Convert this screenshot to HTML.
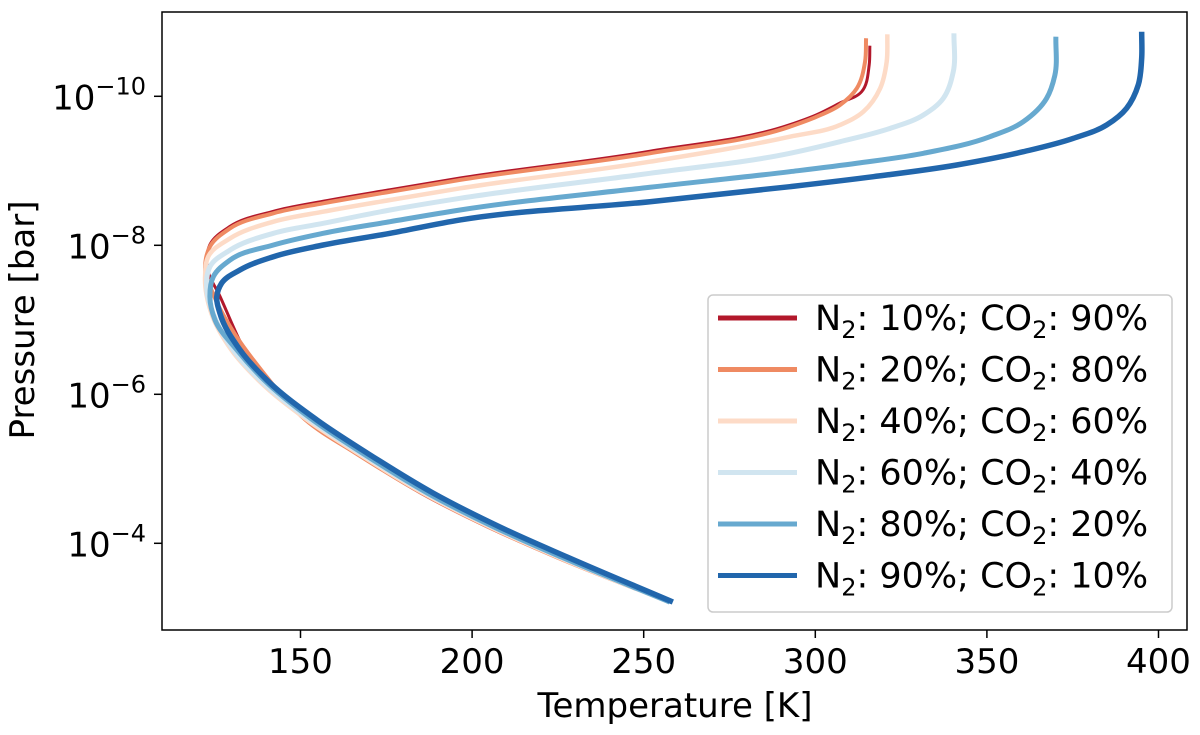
<!DOCTYPE html>
<html><head><meta charset="utf-8"><style>
body{margin:0;background:#fff}
svg text{font-family:"DejaVu Sans","Liberation Sans",sans-serif;fill:#000}
</style></head><body>
<svg id="chart" width="1200" height="730" xmlns="http://www.w3.org/2000/svg">
<g id="curves"></g>
<rect x="162" y="12" width="1025" height="618" fill="none" stroke="#000" stroke-width="1.5"/>
<g id="xticks"></g>
<g id="yticks"></g>
<text x="675" y="717" font-size="34" text-anchor="middle">Temperature [K]</text>
<text transform="translate(34,320) rotate(-90)" font-size="34" text-anchor="middle">Pressure [bar]</text>
<g id="legend">
<rect x="708" y="295" width="464" height="317" rx="5" fill="#fff" fill-opacity="0.9" stroke="#ccc" stroke-width="1.5"/>
</g>
</svg>
<script>
const labelsN2=["10%","20%","40%","60%","80%","90%"];
const labelsCO2=["90%","80%","60%","40%","20%","10%"];
const pRed=[-10.679,-10.420,-10.062,-9.910,-9.753,-9.619,-9.262,-8.903,-8.746,-8.591,-8.456,-8.255,-8.008,-7.713,-7.310,-6.326,-5.655,-5.212,-4.675,-4.219,-3.816,-3.212];
const tRed=[315.9,315.7,313.5,307.2,300.4,292.6,251.8,196.5,176.1,156.6,142.1,129.5,123.6,122.8,126.6,137.3,151.5,166,185,204.5,224.3,257.5];
const pOrange=[-10.779,-10.464,-10.107,-9.883,-9.726,-9.592,-9.235,-8.877,-8.719,-8.564,-8.430,-8.228,-7.981,-7.713,-7.3,-6.8,-6.3,-5.655,-5.212,-4.675,-4.219,-3.816,-3.212];
const tOrange=[314.8,314.5,312.1,307.2,300.4,292.6,251.8,196.5,176.1,156.6,142.1,129.5,123.6,122.2,125,131,139,151.5,166,185.3,204.8,224.5,257.5];
const pPeach=[-10.832,-10.464,-10.107,-9.793,-9.615,-9.458,-9.122,-8.765,-8.608,-8.451,-8.317,-8.094,-7.847,-7.579,-7.091,-6.594,-6.192,-5.655,-5.212,-4.675,-4.219,-3.816,-3.212];
const tPeach=[321.0,320.8,318.9,314.0,307.2,292.6,251.8,196.5,176.1,156.6,142.1,129.5,123.1,122.2,124,129.9,137.7,152,166.6,185.8,205.3,225,257.5];
const pLight=[-10.846,-10.330,-9.973,-9.749,-9.570,-9.391,-9.235,-8.966,-8.631,-8.474,-8.295,-8.161,-7.937,-7.713,-7.400,-7.091,-6.594,-6.192,-5.655,-5.212,-4.675,-4.219,-3.816,-3.212];
const tLight=[340.4,340.2,337.3,331.5,321.8,307.2,292.6,251.8,196.5,176.1,156.6,142.1,129.5,123.6,122.7,124.5,130.4,138.2,152.8,167.4,186.6,206.1,225.7,257.5];
const pMed=[-10.800,-10.282,-9.973,-9.659,-9.458,-9.235,-9.101,-8.988,-8.779,-8.474,-8.317,-8.161,-8.004,-7.803,-7.579,-7.310,-6.997,-6.594,-6.192,-5.655,-5.212,-4.675,-4.219,-3.816,-3.212];
const tMed=[370.1,369.8,367.4,360.6,350.9,331.5,312.1,292.6,251.8,196.5,176.1,156.6,142.1,129.5,124.6,123.6,125.1,131.5,139.4,153.6,168,187,206.4,226,257.6];
const pDark=[-10.867,-10.510,-10.152,-9.839,-9.615,-9.436,-9.256,-9.078,-8.921,-8.787,-8.585,-8.340,-8.161,-8.004,-7.847,-7.670,-7.490,-7.310,-7.091,-6.594,-6.192,-5.655,-5.212,-4.675,-4.219,-3.816,-3.212];
const tDark=[395.1,395.1,394.1,390.7,384.9,375.2,360.6,341.2,316.9,292.6,251.8,196.5,176.1,156.6,142.1,132.4,127.0,125.6,126.5,132.4,140.2,154.8,169.4,188.6,208.1,227.7,258.5];
const xTicks=[150,200,250,300,350,400];
const yTicks=[-10,-8,-6,-4];
const seriesP=[pRed,pOrange,pPeach,pLight,pMed,pDark];
const seriesT=[tRed,tOrange,tPeach,tLight,tMed,tDark];
const colors=["#b2182b","#ef8a62","#fddbc7","#d1e5f0","#67a9cf","#2166ac"];
const widths=[3,4,4.5,5,5,5.5];
const names=["red","orange","peach","light-blue","medium-blue","dark-blue"];
const NS="http://www.w3.org/2000/svg";
const xs=t=>300.5+(t-150)*3.432;
const ys=l=>245.3+(l+8)*74.5;
function mk(tag,attrs,parent){const e=document.createElementNS(NS,tag);for(const k in attrs)e.setAttribute(k,attrs[k]);parent.appendChild(e);return e;}
const dist=(a,b)=>Math.hypot(a[0]-b[0],a[1]-b[1])||1e-6;
function tangent(pts,k){
  const n=pts.length;
  if(k===0){const d=dist(pts[1],pts[0]);return [(pts[1][0]-pts[0][0])/d,(pts[1][1]-pts[0][1])/d];}
  if(k===n-1){const d=dist(pts[n-1],pts[n-2]);return [(pts[n-1][0]-pts[n-2][0])/d,(pts[n-1][1]-pts[n-2][1])/d];}
  const d0=dist(pts[k],pts[k-1]),d1=dist(pts[k+1],pts[k]);
  const ax=(pts[k][0]-pts[k-1][0])/d0,ay=(pts[k][1]-pts[k-1][1])/d0;
  const bx=(pts[k+1][0]-pts[k][0])/d1,by=(pts[k+1][1]-pts[k][1])/d1;
  const w0=d1/(d0+d1),w1=d0/(d0+d1);
  let tx=ax*w0+bx*w1,ty=ay*w0+by*w1;const m=Math.hypot(tx,ty)||1;return [tx/m,ty/m];
}
const curves=document.getElementById('curves');
seriesT.forEach((s,i)=>{
  const pts=s.map((t,j)=>[xs(t),ys(seriesP[i][j])]);
  const tg=pts.map((p,k)=>tangent(pts,k));
  let d="M"+pts[0][0].toFixed(2)+","+pts[0][1].toFixed(2);
  for(let k=0;k<pts.length-1;k++){
    const p1=pts[k],p2=pts[k+1],L=dist(p1,p2)/3;
    const c1=[p1[0]+tg[k][0]*L,p1[1]+tg[k][1]*L],c2=[p2[0]-tg[k+1][0]*L,p2[1]-tg[k+1][1]*L];
    d+=` C${c1[0].toFixed(2)},${c1[1].toFixed(2)} ${c2[0].toFixed(2)},${c2[1].toFixed(2)} ${p2[0].toFixed(2)},${p2[1].toFixed(2)}`;
  }
  const p=mk('path',{d:d,fill:"none",stroke:colors[i],"stroke-width":widths[i],"stroke-linejoin":"round"},curves);
  
  
});
const xg=document.getElementById('xticks');
xTicks.forEach(t=>{
  const l=mk('line',{x1:xs(t),x2:xs(t),y1:630,y2:638,stroke:"#000","stroke-width":1.5},xg);
  
  
  const tx=mk('text',{x:xs(t),y:673,"font-size":34,"text-anchor":"middle"},xg);tx.textContent=t;
  
  
});
const yg=document.getElementById('yticks');
yTicks.forEach(v=>{
  const l=mk('line',{x1:154,x2:162,y1:ys(v),y2:ys(v),stroke:"#000","stroke-width":1.5},yg);
  
  
  const tx=mk('text',{x:146,y:ys(v)+13,"font-size":34,"text-anchor":"end"},yg);
  
  
  tx.innerHTML='10<tspan font-size="24" dy="-15">\u2212'+(-v)+'</tspan>';
});
const lg=document.getElementById('legend');
colors.forEach((c,i)=>{
  const y=318+i*51.5;
  const l=mk('line',{x1:718,x2:797,y1:y,y2:y,stroke:c,"stroke-width":5},lg);
  
  
  const tx=mk('text',{x:815,y:y+12,"font-size":35},lg);
  
  
  tx.innerHTML='N<tspan font-size="24" dy="8">2</tspan><tspan dy="-8">: '+labelsN2[i]+'; CO</tspan><tspan font-size="24" dy="8">2</tspan><tspan dy="-8">: '+labelsCO2[i]+'</tspan>';
});
</script>
</body></html>
